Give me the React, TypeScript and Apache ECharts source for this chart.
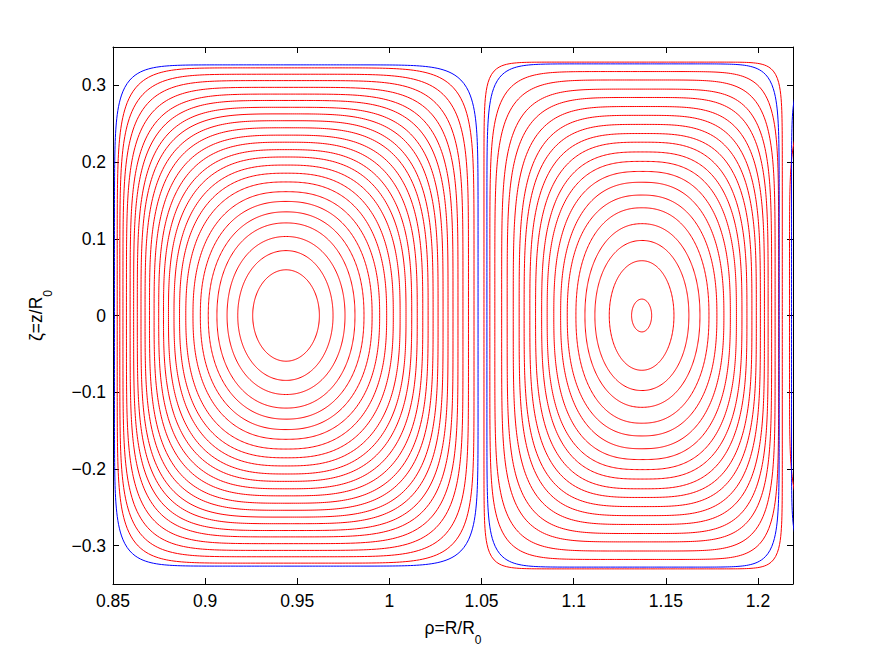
import React, { useEffect, useRef } from "react";
import * as echarts from "echarts";

// ---- axes ----
const xTicks = [0.85, 0.9, 0.95, 1, 1.05, 1.1, 1.15, 1.2];
const yTicks = [-0.3, -0.2, -0.1, 0, 0.1, 0.2, 0.3];
const xMin = 0.85;
const xMax = 1.219;
const yMin = -0.35;
const yMax = 0.35;

// ---- left cell (inner -> outer red contours) ----
const leftCenter = 0.9439;
const leftTop = [0.0596, 0.0846, 0.103, 0.1207, 0.1351, 0.1487, 0.1614, 0.1741, 0.1855, 0.1961, 0.2066, 0.2162, 0.2259, 0.2351, 0.2447, 0.2539, 0.2628, 0.2714, 0.2803, 0.2886, 0.2974, 0.3062, 0.3145, 0.3228];
const leftWidthL = [0.0181, 0.0262, 0.032, 0.0375, 0.0422, 0.0465, 0.0505, 0.0544, 0.0578, 0.0608, 0.0638, 0.0665, 0.0691, 0.0716, 0.0741, 0.0765, 0.0787, 0.0807, 0.0827, 0.0846, 0.0866, 0.0885, 0.0902, 0.0916];
const leftWidthR = [0.0181, 0.0255, 0.032, 0.0374, 0.0423, 0.0467, 0.0508, 0.0546, 0.0582, 0.0619, 0.0651, 0.0682, 0.0712, 0.0742, 0.0771, 0.0798, 0.0825, 0.0852, 0.0879, 0.0906, 0.0933, 0.096, 0.099, 0.102];
const leftShape = [2.0, 2.05, 2.1, 2.15, 2.2, 2.28, 2.36, 2.45, 2.55, 2.65, 2.75, 2.87, 3.0, 3.15, 3.3, 3.45, 3.65, 3.85, 4.1, 4.4, 4.8, 5.3, 6.0, 7.0];
const leftBlue = { top: 0.3267, wl: 0.0931, wr: 0.1042, n: 9 };

// ---- right cell (inner -> outer red contours) ----
const rightCenter = 1.137;
const rightTop = [0.0214, 0.0714, 0.0978, 0.1197, 0.1404, 0.157, 0.1737, 0.1878, 0.2009, 0.2132, 0.2259, 0.2372, 0.2491, 0.2609, 0.2724, 0.2842, 0.2951, 0.307, 0.318, 0.3303];
const rightWidthL = [0.0056, 0.0177, 0.0255, 0.0309, 0.0358, 0.0405, 0.0441, 0.0478, 0.0514, 0.0544, 0.0577, 0.0608, 0.0639, 0.0666, 0.0698, 0.0731, 0.0761, 0.0798, 0.0825, 0.0857];
const rightWidthR = [0.0053, 0.0174, 0.0255, 0.0315, 0.0364, 0.0407, 0.0445, 0.048, 0.0513, 0.0543, 0.057, 0.0597, 0.0621, 0.0643, 0.0665, 0.0685, 0.0704, 0.0723, 0.0742, 0.0762];
const rightShape = [2.0, 2.05, 2.1, 2.15, 2.25, 2.35, 2.45, 2.6, 2.75, 2.9, 3.05, 3.25, 3.45, 3.7, 4.0, 4.4, 4.9, 5.6, 6.8, 14];
const rightBlue = { top: 0.328, wl: 0.0841, wr: 0.0745, n: 10 };

// ---- third cell, only its left edge is visible ----
const edgeRed = { cx: 1.309, top: 0.29, wl: 0.0919, n: 7 };
const edgeBlue = { cx: 1.368, top: 0.328, wl: 0.1498, n: 13.5 };

const RED = "#ff0000";
const BLUE = "#0000ff";

function quarter(n: number): number[][] {
  const d = Math.pow(0.5, 1 / n);
  const m = 60;
  const pts: number[][] = [];
  for (let i = 0; i <= m; i++) {
    const v = (d * i) / m;
    pts.push([Math.pow(1 - Math.pow(v, n), 1 / n), v]);
  }
  for (let i = m - 1; i >= 0; i--) {
    const u = (d * i) / m;
    pts.push([u, Math.pow(1 - Math.pow(u, n), 1 / n)]);
  }
  return pts;
}

function loop(cx: number, wl: number, wr: number, top: number, n: number): number[][] {
  const q = quarter(n);
  const r = [...q].reverse();
  const out: number[][] = [];
  q.forEach(([u, v]) => out.push([cx + wr * u, top * v]));
  r.forEach(([u, v]) => out.push([cx - wl * u, top * v]));
  q.forEach(([u, v]) => out.push([cx - wl * u, -top * v]));
  r.forEach(([u, v]) => out.push([cx + wr * u, -top * v]));
  return out;
}

function lineSeries(data: number[][], color: string) {
  return {
    type: "line",
    data,
    showSymbol: false,
    symbol: "none",
    silent: true,
    clip: true,
    smooth: false,
    lineStyle: { color, width: 1 },
    xAxisIndex: 0,
    yAxisIndex: 0,
  };
}

function fmt(v: number): string {
  const s = String(parseFloat(v.toFixed(2)));
  return s.startsWith("-") ? "\u2212" + s.slice(1) : s;
}

export default function App() {
  const ref = useRef<HTMLDivElement>(null);
  useEffect(() => {
    document.body.style.margin = "0";
    if (!ref.current) return;
    const chart = echarts.init(ref.current, undefined, { renderer: "svg" });
    const series: any[] = [];
    leftTop.forEach((t, i) => {
      series.push(lineSeries(loop(leftCenter, leftWidthL[i], leftWidthR[i], t, leftShape[i]), RED));
    });
    series.push(lineSeries(loop(leftCenter, leftBlue.wl, leftBlue.wr, leftBlue.top, leftBlue.n), BLUE));
    rightTop.forEach((t, i) => {
      series.push(lineSeries(loop(rightCenter, rightWidthL[i], rightWidthR[i], t, rightShape[i]), RED));
    });
    series.push(lineSeries(loop(rightCenter, rightBlue.wl, rightBlue.wr, rightBlue.top, rightBlue.n), BLUE));
    series.push(lineSeries(loop(edgeRed.cx, edgeRed.wl, edgeRed.wl, edgeRed.top, edgeRed.n), RED));
    series.push(lineSeries(loop(edgeBlue.cx, edgeBlue.wl, edgeBlue.wl, edgeBlue.top, edgeBlue.n), BLUE));

    const font = "'Liberation Sans', Arial, Helvetica, sans-serif";
    const fs = 17.5;
    const axisCommon = {
      type: "value",
      splitLine: { show: false },
      axisLine: { show: true, onZero: false, lineStyle: { color: "#000", width: 1 } },
    };
    const nameStyle = {
      color: "#000",
      fontSize: fs,
      fontFamily: font,
      rich: { sub: { fontSize: 12, fontFamily: font, color: "#000", verticalAlign: "bottom", padding: [0, 0, -9, 0] } },
    };
    chart.setOption({
      animation: false,
      backgroundColor: "#fff",
      grid: { left: 113, right: 82, top: 47, bottom: 75, containLabel: false },
      xAxis: [
        {
          ...axisCommon,
          position: "bottom",
          min: xMin,
          max: xMax,
          axisTick: { show: true, inside: true, length: 6, customValues: xTicks, lineStyle: { color: "#000" } },
          axisLabel: { customValues: xTicks, formatter: (v: number) => fmt(v), color: "#000", fontSize: fs, fontFamily: font, margin: 8 },
          name: "ρ=R/R{sub|0}",
          nameLocation: "middle",
          nameGap: 35,
          nameTextStyle: nameStyle,
        },
        {
          ...axisCommon,
          position: "top",
          min: xMin,
          max: xMax,
          axisTick: { show: true, inside: true, length: 6, customValues: xTicks, lineStyle: { color: "#000" } },
          axisLabel: { show: false },
        },
      ],
      yAxis: [
        {
          ...axisCommon,
          position: "left",
          min: yMin,
          max: yMax,
          axisTick: { show: true, inside: true, length: 6, customValues: yTicks, lineStyle: { color: "#000" } },
          axisLabel: { customValues: yTicks, formatter: (v: number) => fmt(v), color: "#000", fontSize: fs, fontFamily: font, margin: 7 },
          name: "ζ=z/R{sub|0}",
          nameLocation: "middle",
          nameRotate: 90,
          nameGap: 68,
          nameTextStyle: nameStyle,
        },
        {
          ...axisCommon,
          position: "right",
          min: yMin,
          max: yMax,
          axisTick: { show: true, inside: true, length: 6, customValues: yTicks, lineStyle: { color: "#000" } },
          axisLabel: { show: false },
        },
      ],
      series,
    });
    return () => chart.dispose();
  }, []);
  return <div ref={ref} style={{ width: 875, height: 659 }} />;
}
